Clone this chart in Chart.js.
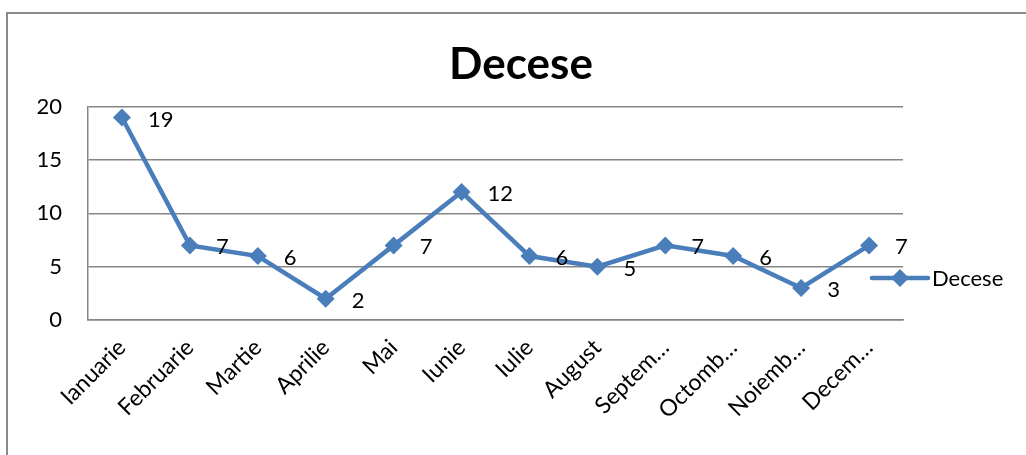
<!DOCTYPE html>
<html>
<head>
<meta charset="utf-8">
<script src="https://cdn.jsdelivr.net/npm/chart.js@4.4.1/dist/chart.umd.min.js"></script>
<style>
  html, body { margin: 0; padding: 0; background: #fff; overflow: hidden; }
  #frame { position: absolute; left: 6px; top: 12px; width: 1100px; height: 500px;
           border-left: 2px solid #8a8a8a; border-top: 2px solid #8a8a8a; }
  #wrap { position: absolute; left: 0; top: 0; width: 1026px; height: 455px; }
</style>
</head>
<body>
<div id="frame"></div>
<div id="wrap"><canvas id="decese"></canvas></div>
<script>
const luni = ['Ianuarie', 'Februarie', 'Martie', 'Aprilie', 'Mai', 'Iunie',
  'Iulie', 'August', 'Septembrie', 'Octombrie', 'Noiembrie', 'Decembrie'];
const eticheteLuni = ['Ianuarie', 'Februarie', 'Martie', 'Aprilie', 'Mai', 'Iunie',
  'Iulie', 'August', 'Septem…', 'Octomb…', 'Noiemb…', 'Decem…'];
const decese = [19, 7, 6, 2, 7, 12, 6, 5, 7, 6, 3, 7];
const yTicks = [0, 5, 10, 15, 20];

const albastru = 'rgb(74,126,187)';
const gri = 'rgb(134,134,134)';
const font = 'Lato, "Open Sans", sans-serif';

// values written to the right of every point
const valoriPlugin = {
  id: 'valori',
  afterDatasetsDraw(chart) {
    const ctx = chart.ctx;
    const meta = chart.getDatasetMeta(0);
    ctx.save();
    ctx.font = '22px ' + font;
    ctx.fillStyle = '#000';
    ctx.textAlign = 'left';
    ctx.textBaseline = 'middle';
    meta.data.forEach((pt, i) => {
      ctx.fillText(String(chart.data.datasets[0].data[i]), pt.x + 26, pt.y + 2);
    });
    ctx.restore();
  }
};

// excel style legend: line with a diamond, then the label
const legendaPlugin = {
  id: 'legenda',
  afterDraw(chart) {
    const ctx = chart.ctx;
    const ds = chart.data.datasets[0];
    const x = 872, y = 278;
    ctx.save();
    ctx.strokeStyle = ds.borderColor;
    ctx.lineWidth = 4.5;
    ctx.lineCap = 'round';
    ctx.beginPath();
    ctx.moveTo(x, y);
    ctx.lineTo(x + 56, y);
    ctx.stroke();
    ctx.fillStyle = ds.borderColor;
    ctx.beginPath();
    ctx.moveTo(x + 28, y - 9);
    ctx.lineTo(x + 37, y);
    ctx.lineTo(x + 28, y + 9);
    ctx.lineTo(x + 19, y);
    ctx.closePath();
    ctx.fill();
    ctx.font = '22px ' + font;
    ctx.fillStyle = '#000';
    ctx.textBaseline = 'middle';
    ctx.fillText(ds.label, x + 60, y + 1);
    ctx.restore();
  }
};

new Chart(document.getElementById('decese'), {
  type: 'line',
  data: {
    labels: luni,
    datasets: [{
      label: 'Decese',
      data: decese,
      borderColor: albastru,
      backgroundColor: albastru,
      borderWidth: 4.5,
      pointStyle: 'rectRot',
      pointRadius: 9,
      pointHoverRadius: 9,
      pointBorderWidth: 0,
      tension: 0
    }]
  },
  options: {
    responsive: true,
    maintainAspectRatio: false,
    animation: false,
    layout: { padding: { top: 12, right: 0, bottom: 35, left: 16 } },
    plugins: {
      legend: { display: false },
      tooltip: { enabled: false },
      title: {
        display: true,
        text: 'Decese',
        color: '#000',
        font: { family: font, size: 44, weight: 'bold', lineHeight: 1.2 },
        padding: { top: 26, bottom: 16 }
      }
    },
    scales: {
      x: {
        offset: true,
        grid: { display: false, drawTicks: false },
        border: { display: true, color: gri, width: 1.5 },
        ticks: {
          color: '#000',
          font: { family: font, size: 23 },
          maxRotation: 45,
          minRotation: 45,
          padding: 14,
          autoSkip: false,
          callback: (v, i) => eticheteLuni[i]
        },
        afterFit: (s) => { s.height = 100; }
      },
      y: {
        min: 0,
        max: 20,
        grid: { color: gri, lineWidth: 1.5, drawTicks: false },
        border: { display: true, color: gri, width: 1.5 },
        afterBuildTicks: (s) => { s.ticks = yTicks.map(v => ({ value: v })); },
        ticks: {
          color: '#000',
          font: { family: font, size: 22 },
          padding: 26
        },
        afterFit: (s) => { s.width = 72; }
      },
      // empty space on the right where the legend sits
      rezerva: {
        position: 'right',
        grid: { display: false, drawTicks: false },
        border: { display: false },
        ticks: { display: false },
        afterFit: (s) => { s.width = 123; }
      }
    }
  },
  plugins: [valoriPlugin, legendaPlugin]
});
</script>
</body>
</html>
